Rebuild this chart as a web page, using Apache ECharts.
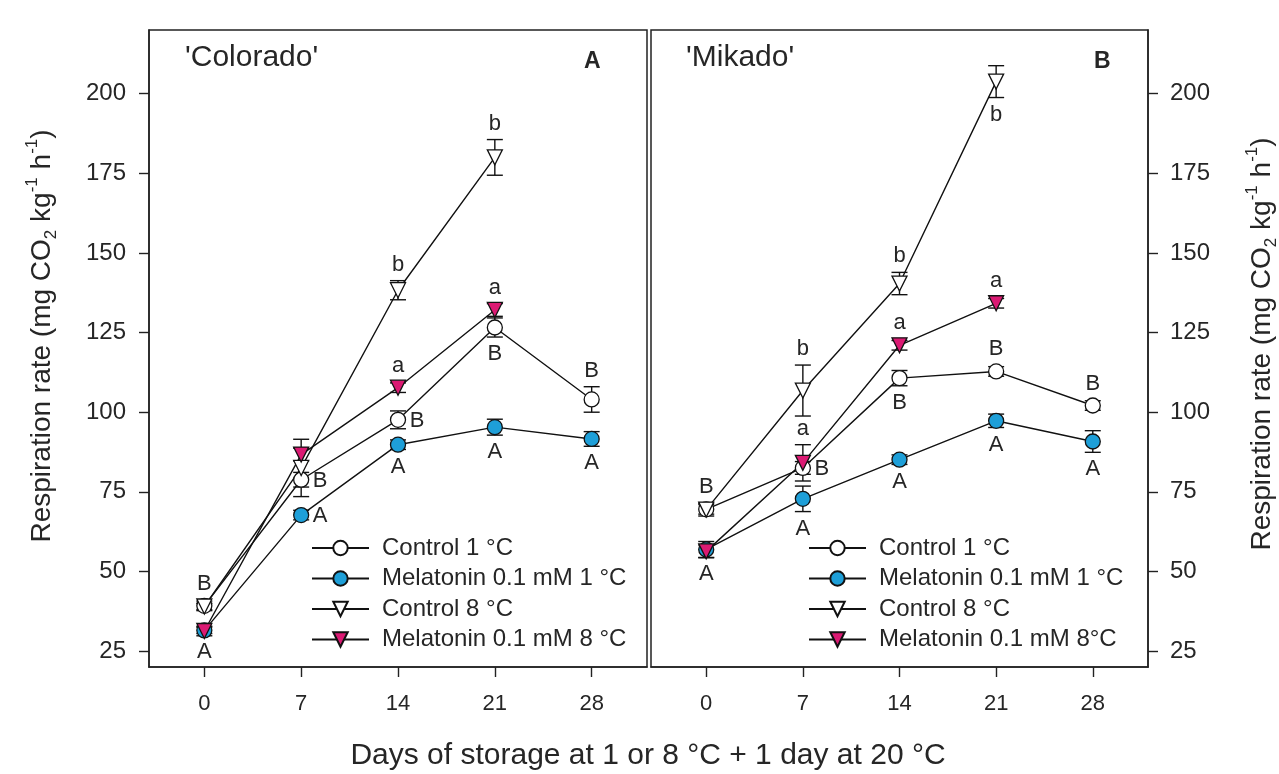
<!DOCTYPE html>
<html><head><meta charset="utf-8">
<script src="https://cdn.jsdelivr.net/npm/echarts@6/dist/echarts.min.js"></script>
<style>html,body{margin:0;padding:0;background:#fff}#c{width:1279px;height:774px}</style>
</head><body><div id="c"></div>
<script>
// ---------- data ----------
const days = [0, 7, 14, 21, 28];
const xTicks = [0, 7, 14, 21, 28];
const yTicks = [25, 50, 75, 100, 125, 150, 175, 200];

const seriesNamesA = ['Control 1 °C', 'Melatonin 0.1 mM 1 °C', 'Control 8 °C', 'Melatonin 0.1 mM 8 °C'];
const seriesNamesB = ['Control 1 °C', 'Melatonin 0.1 mM 1 °C', 'Control 8 °C', 'Melatonin 0.1 mM 8°C'];

// Panel A  'Colorado'
const colCtrl1 = [39.2, 78.8, 97.6, 126.6, 104.0];
const colCtrl1Err = [1.5, 2.3, 2.8, 3.0, 4.0];
const colMel1 = [31.5, 67.7, 89.8, 95.3, 91.6];
const colMel1Err = [1.0, 1.5, 1.5, 2.5, 2.3];
const colCtrl8 = [39.0, 82.5, 138.3, 180.0, null];
const colCtrl8Err = [1.0, 9.0, 3.0, 5.6, null];
const colMel8 = [31.3, 86.7, 107.7, 132.1, null];
const colMel8Err = [1.5, 2.0, 1.5, 2.0, null];
const colCtrl1Letters = ['B', 'B', 'B', 'B', 'B'];
const colMel1Letters = ['A', 'A', 'A', 'A', 'A'];
const colCtrl8Letters = ['', '', 'b', 'b', ''];
const colMel8Letters = ['', '', 'a', 'a', ''];

// Panel B  'Mikado'
const mikCtrl1 = [69.5, 82.5, 110.7, 112.8, 102.1];
const mikCtrl1Err = [1.5, 2.0, 2.4, 1.5, 1.5];
const mikMel1 = [56.9, 72.8, 85.1, 97.3, 90.8];
const mikMel1Err = [2.5, 4.0, 1.5, 2.1, 3.4];
const mikCtrl8 = [69.4, 106.8, 140.4, 203.8, null];
const mikCtrl8Err = [2.0, 8.0, 3.5, 5.0, null];
const mikMel8 = [56.3, 84.1, 121.0, 134.2, null];
const mikMel8Err = [2.0, 5.7, 1.5, 1.5, null];
const mikCtrl1Letters = ['B', 'B', 'B', 'B', 'B'];
const mikMel1Letters = ['A', 'A', 'A', 'A', 'A'];
const mikCtrl8Letters = ['', 'b', 'b', 'b', ''];
const mikMel8Letters = ['', 'a', 'a', 'a', ''];

// ---------- layout / style (not data) ----------
const FONT = '"Liberation Sans", Arial, sans-serif';
const TXT = '#262626';
const BLUE = '#1E9FD8';
const PINK = '#DB1A73';
const styles = [
  { symbol: 'circle', rotate: 0, fill: '#ffffff' },
  { symbol: 'circle', rotate: 0, fill: BLUE },
  { symbol: 'triangle', rotate: 180, fill: '#ffffff' },
  { symbol: 'triangle', rotate: 180, fill: PINK }
];
// where each letter sits relative to its point
const letterPlace = {
  A: [
    ['top', 'right', 'right', 'bottom', 'top'],
    ['bottom', 'right', 'bottom', 'bottom', 'bottom'],
    ['', '', 'top', 'top', ''],
    ['', '', 'top', 'top', '']
  ],
  B: [
    ['top', 'right', 'bottom', 'top', 'top'],
    ['bottom', 'bottom', 'bottom', 'bottom', 'bottom'],
    ['', 'top', 'top', 'bottom', ''],
    ['', 'top', 'top', 'top', '']
  ]
};

const panels = [
  { key: 'A', names: seriesNamesA,
    vals: [colCtrl1, colMel1, colCtrl8, colMel8],
    errs: [colCtrl1Err, colMel1Err, colCtrl8Err, colMel8Err],
    letters: [colCtrl1Letters, colMel1Letters, colCtrl8Letters, colMel8Letters] },
  { key: 'B', names: seriesNamesB,
    vals: [mikCtrl1, mikMel1, mikCtrl8, mikMel8],
    errs: [mikCtrl1Err, mikMel1Err, mikCtrl8Err, mikMel8Err],
    letters: [mikCtrl1Letters, mikMel1Letters, mikCtrl8Letters, mikMel8Letters] }
];

const SYM = 15;
const series = [];
panels.forEach((p, pi) => {
  const lineSeries = [], errSeries = [], markSeries = [], letterSeries = [];
  p.vals.forEach((vals, si) => {
    const st = styles[si];
    const pts = [], errPts = [], lets = [], letInfo = [];
    days.forEach((d, i) => {
      if (vals[i] == null) return;
      pts.push([d, vals[i]]);
      errPts.push([d, vals[i], p.errs[si][i]]);
      if (p.letters[si][i]) {
        lets.push([d, vals[i], p.errs[si][i]]);
        letInfo.push({ t: p.letters[si][i], pos: letterPlace[p.key][si][i] });
      }
    });
    lineSeries.push({
      type: 'line', name: p.names[si], xAxisIndex: pi, yAxisIndex: pi,
      data: pts, symbol: st.symbol, symbolRotate: st.rotate, symbolSize: SYM,
      showSymbol: false, silent: true, z: 2,
      lineStyle: { color: '#111', width: 1.4 },
      itemStyle: { color: st.fill, borderColor: '#111', borderWidth: 1.3 },
      emphasis: { disabled: true }
    });
    errSeries.push({
      type: 'custom', name: p.names[si] + ' err', xAxisIndex: pi, yAxisIndex: pi,
      data: errPts, silent: true, z: 3,
      renderItem: (params, api) => {
        const x = api.value(0), y = api.value(1), e = api.value(2);
        const t = api.coord([x, y + e]), b = api.coord([x, y - e]);
        const hw = 8, ls = { stroke: '#111', lineWidth: 1.4 };
        return { type: 'group', children: [
          { type: 'line', shape: { x1: t[0], y1: t[1], x2: b[0], y2: b[1] }, style: ls },
          { type: 'line', shape: { x1: t[0] - hw, y1: t[1], x2: t[0] + hw, y2: t[1] }, style: ls },
          { type: 'line', shape: { x1: b[0] - hw, y1: b[1], x2: b[0] + hw, y2: b[1] }, style: ls }
        ] };
      }
    });
    markSeries.push({
      type: 'scatter', name: p.names[si] + ' pts', xAxisIndex: pi, yAxisIndex: pi,
      data: pts, symbol: st.symbol, symbolRotate: st.rotate, symbolSize: SYM,
      silent: true, z: 4,
      itemStyle: { color: st.fill, borderColor: '#111', borderWidth: 1.3, opacity: 1 }
    });
    letterSeries.push({
      type: 'custom', name: p.names[si] + ' letters', xAxisIndex: pi, yAxisIndex: pi,
      data: lets, silent: true, z: 5,
      renderItem: (params, api) => {
        const info = letInfo[params.dataIndex];
        const x = api.value(0), y = api.value(1), e = api.value(2);
        const c = api.coord([x, y]);
        const ePx = Math.abs(api.coord([x, y + e])[1] - c[1]);
        let dx = 0, dy = 0;
        if (info.pos === 'top') dy = -(Math.max(ePx, 6) + 16);
        else if (info.pos === 'bottom') dy = Math.max(ePx, 5) + 17;
        else if (info.pos === 'right') { dx = 19; dy = 1; }
        return { type: 'text', x: c[0] + dx, y: c[1] + dy,
          style: { text: info.t, fill: TXT, fontSize: 22, fontFamily: FONT,
                   align: 'center', verticalAlign: 'middle' } };
      }
    });
  });
  series.push(...lineSeries, ...errSeries, ...markSeries, ...letterSeries);
});

const yName = '{a|Respiration rate (mg CO}{b|2}{a| kg}{c|-1}{a| h}{c|-1}{a|)}';
const yRich = {
  a: { fontSize: 28, fontFamily: FONT, fill: TXT, color: TXT, lineHeight: 36 },
  b: { fontSize: 17, fontFamily: FONT, fill: TXT, color: TXT, lineHeight: 17, verticalAlign: 'bottom' },
  c: { fontSize: 17, fontFamily: FONT, fill: TXT, color: TXT, lineHeight: 17, verticalAlign: 'top' }
};

function xAxisCfg(gi) {
  return {
    type: 'value', gridIndex: gi, min: -4, max: 32,
    axisLine: { show: true, onZero: false, lineStyle: { color: '#222', width: 1.5 } },
    axisTick: { show: true, customValues: xTicks, length: 10, lineStyle: { color: '#222', width: 1.4 } },
    axisLabel: { customValues: xTicks, fontSize: 22, fontFamily: FONT, color: TXT, margin: 26 },
    splitLine: { show: false }
  };
}
function yAxisCfg(gi, pos, margin) {
  return {
    type: 'value', gridIndex: gi, min: 20, max: 220, position: pos,
    axisLine: { show: true, onZero: false, lineStyle: { color: '#222', width: 1.5 } },
    axisTick: { show: true, customValues: yTicks, length: 10, lineStyle: { color: '#222', width: 1.4 } },
    axisLabel: { customValues: yTicks, fontSize: 24, fontFamily: FONT, color: TXT, margin: margin },
    splitLine: { show: false }
  };
}

function legendCfg(names, left) {
  return {
    data: names, orient: 'vertical', left: left, top: 536, padding: 0,
    itemWidth: 57, itemHeight: 18, itemGap: 6.5,
    selectedMode: false,
    textStyle: { fontSize: 24, fontFamily: FONT, color: TXT, lineHeight: 24, padding: [0, 0, 0, 8] }
  };
}

const option = {
  animation: false,
  backgroundColor: '#ffffff',
  grid: [
    { left: 149, top: 30, width: 498, height: 637, show: true, borderColor: '#222', borderWidth: 1.5 },
    { left: 651, top: 30, width: 497, height: 637, show: true, borderColor: '#222', borderWidth: 1.5 }
  ],
  xAxis: [xAxisCfg(0), xAxisCfg(1)],
  yAxis: [yAxisCfg(0, 'left', 23), yAxisCfg(1, 'right', 22)],
  legend: [legendCfg(seriesNamesA, 311), legendCfg(seriesNamesB, 808)],
  graphic: [
    { type: 'text', left: 185, top: 43, style: { text: "'Colorado'", fontSize: 30, fontFamily: FONT, fill: TXT } },
    { type: 'text', left: 584, top: 50, style: { text: 'A', fontSize: 23, fontWeight: 'bold', fontFamily: FONT, fill: TXT } },
    { type: 'text', left: 686, top: 43, style: { text: "'Mikado'", fontSize: 30, fontFamily: FONT, fill: TXT } },
    { type: 'text', left: 1094, top: 50, style: { text: 'B', fontSize: 23, fontWeight: 'bold', fontFamily: FONT, fill: TXT } },
    { type: 'text', x: 648, y: 756, style: { text: 'Days of storage at 1 or 8 °C + 1 day at 20 °C', fontSize: 30, fontFamily: FONT, fill: TXT, align: 'center', verticalAlign: 'middle' } },
    { type: 'text', x: 42, y: 336, rotation: Math.PI / 2, style: { text: yName, rich: yRich, fontFamily: FONT, fill: TXT, align: 'center', verticalAlign: 'middle' } },
    { type: 'text', x: 1262, y: 344, rotation: Math.PI / 2, style: { text: yName, rich: yRich, fontFamily: FONT, fill: TXT, align: 'center', verticalAlign: 'middle' } }
  ],
  series: series
};

const chart = echarts.init(document.getElementById('c'), null, { renderer: 'canvas' });
chart.setOption(option);
</script>
</body></html>
